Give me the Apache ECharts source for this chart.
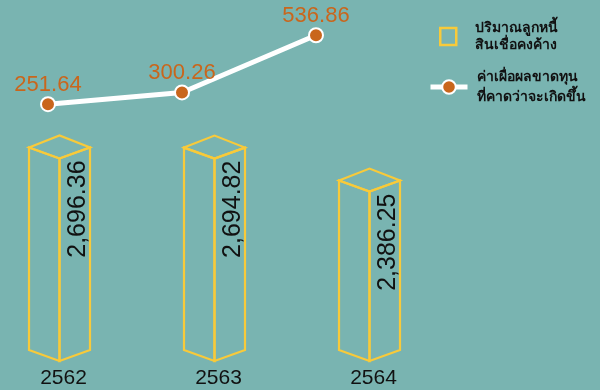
<!DOCTYPE html>
<html>
<head>
<meta charset="utf-8">
<script src="https://cdn.jsdelivr.net/npm/echarts@6/dist/echarts.min.js"></script>
<style>
html,body{margin:0;padding:0;background:#79b4b1;}
#chart{width:600px;height:390px;}
</style>
</head>
<body>
<div id="chart"></div>
<script>
const categories = ['2562', '2563', '2564'];
const loanValues = [2696.36, 2694.82, 2386.25];
const allowanceValues = [251.64, 300.26, 536.86];
const barSeriesName = 'ปริมาณลูกหนี้\nสินเชื่อคงค้าง';
const lineSeriesName = 'ค่าเผื่อผลขาดทุน\nที่คาดว่าจะเกิดขึ้น';

const YELLOW = '#f8ca3a';
const ORANGE = '#c9661c';
const FONT = 'Liberation Sans, Arial, sans-serif';

function fmt(v) {
  return v.toLocaleString('en-US', {minimumFractionDigits: 2, maximumFractionDigits: 2});
}

const chart = echarts.init(document.getElementById('chart'));

function renderBox(params, api) {
  const top = api.coord([api.value(0), api.value(1)]);
  const base = api.coord([api.value(0), 800]);
  const cx = top[0];
  const w = 30.5, dFront = 11, dBack = 12;
  const L = cx - w, R = cx + w;
  const yt = top[1], yb = base[1];
  const style = {fill: 'none', stroke: YELLOW, lineWidth: 2.2, lineJoin: 'miter'};
  return {
    type: 'group',
    children: [
      {type: 'polygon', shape: {points: [[L, yt], [cx, yt + dFront], [cx, yb + dFront], [L, yb]]}, style: style},
      {type: 'polygon', shape: {points: [[cx, yt + dFront], [R, yt], [R, yb], [cx, yb + dFront]]}, style: style},
      {type: 'polygon', shape: {points: [[L, yt], [cx, yt - dBack], [R, yt], [cx, yt + dFront]]}, style: style},
      {
        type: 'text',
        x: cx + 19, y: yt + dFront + 2,
        rotation: Math.PI / 2,
        style: {
          text: fmt(api.value(1)),
          fill: '#111',
          font: '25px ' + FONT,
          align: 'right',
          verticalAlign: 'middle'
        }
      }
    ]
  };
}

const option = {
  backgroundColor: '#79b4b1',
  animation: false,
  textStyle: {fontFamily: FONT},
  grid: [
    {left: 59.5, right: 600 - 369.5, top: 115, bottom: 40, containLabel: false},
    {left: 48, right: 284, top: 20, bottom: 225, containLabel: false}
  ],
  xAxis: [
    {
      type: 'category', gridIndex: 0, data: categories, boundaryGap: false,
      axisLine: {show: false}, axisTick: {show: false}, splitLine: {show: false},
      axisLabel: {color: '#111', fontSize: 21, fontFamily: FONT, margin: 18, padding: [0, 0, 0, 8]}
    },
    {
      type: 'category', gridIndex: 1, data: categories, boundaryGap: false, show: false
    }
  ],
  yAxis: [
    {type: 'value', gridIndex: 0, min: 800, max: 3000, show: false, splitLine: {show: false}},
    {type: 'value', gridIndex: 1, min: 0, max: 600, show: false, splitLine: {show: false}}
  ],
  legend: [
    {
      data: [{name: barSeriesName, icon: 'rect'}],
      left: 439, top: 17, padding: 0,
      itemWidth: 16, itemHeight: 17,
      itemStyle: {color: 'rgba(0,0,0,0)', borderColor: YELLOW, borderWidth: 2.5},
      textStyle: {color: '#111', fontSize: 14, fontWeight: 'bold', lineHeight: 17, padding: [5, 0, 0, 14]},
      selectedMode: false
    },
    {
      data: [lineSeriesName],
      left: 428, top: 63, padding: 0,
      itemWidth: 37, itemHeight: 17,
      lineStyle: {width: 5, color: '#fff'},
      itemStyle: {color: ORANGE, borderColor: '#fff', borderWidth: 2},
      textStyle: {color: '#111', fontSize: 14, fontWeight: 'bold', lineHeight: 20, padding: [8, 0, 0, 4]},
      selectedMode: false
    }
  ],
  series: [
    {
      name: barSeriesName,
      type: 'custom',
      xAxisIndex: 0, yAxisIndex: 0,
      renderItem: renderBox,
      encode: {x: 0, y: 1},
      data: categories.map((c, i) => [i, loanValues[i]]),
      itemStyle: {color: 'rgba(0,0,0,0)', borderColor: YELLOW},
      z: 2
    },
    {
      name: lineSeriesName,
      type: 'line',
      xAxisIndex: 1, yAxisIndex: 1,
      data: allowanceValues,
      symbol: 'circle',
      symbolSize: 14,
      lineStyle: {color: '#fff', width: 5},
      itemStyle: {color: ORANGE, borderColor: '#fff', borderWidth: 2},
      label: {
        show: true, position: 'top', distance: 0,
        color: ORANGE, fontSize: 22, fontFamily: FONT,
        formatter: p => fmt(p.value)
      },
      z: 5
    }
  ]
};
chart.setOption(option);
</script>
</body>
</html>
